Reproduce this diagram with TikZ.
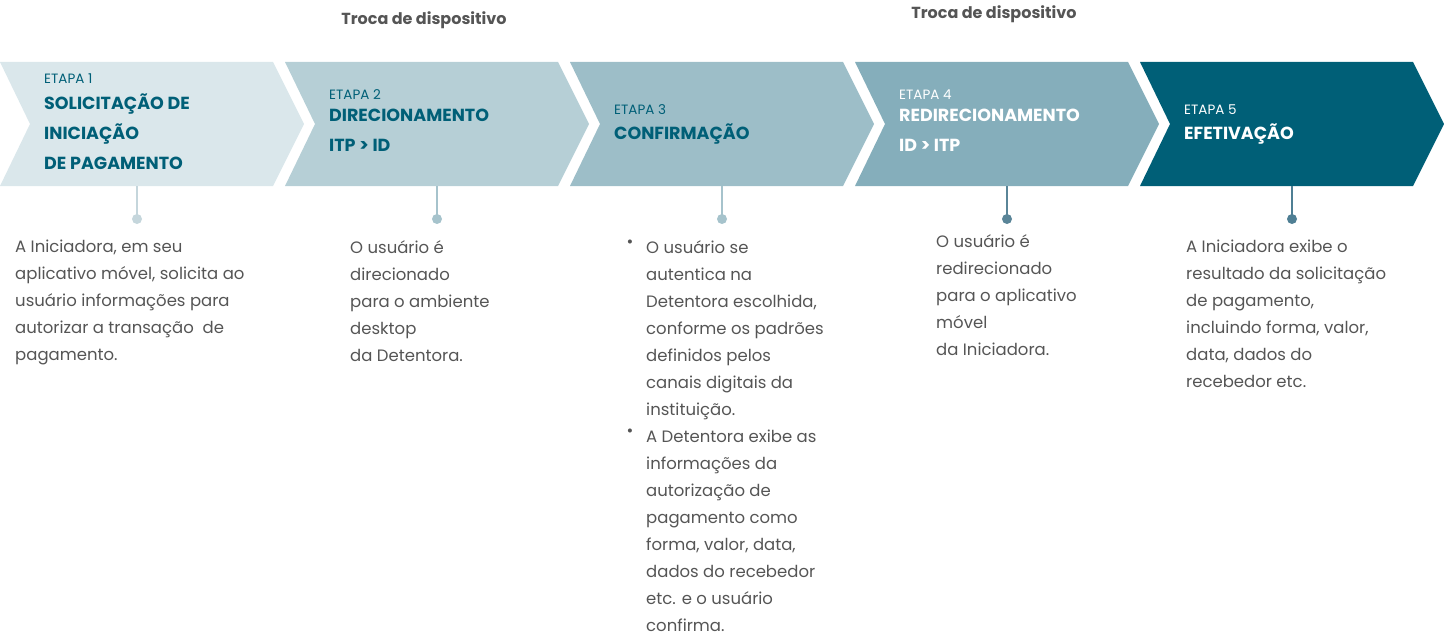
\documentclass[tikz,border=0pt]{standalone}
\usepackage{fontspec}
\setmainfont{Poppins}
\definecolor{cA}{HTML}{DAE7EB}
\definecolor{cB}{HTML}{B6CFD6}
\definecolor{cC}{HTML}{9DBEC8}
\definecolor{cD}{HTML}{85AEBB}
\definecolor{cE}{HTML}{005F77}
\definecolor{tx}{HTML}{555555}
\definecolor{lA}{HTML}{C5D6DC}
\definecolor{lB}{HTML}{A6C3CC}
\definecolor{lD}{HTML}{5A8598}
\definecolor{lE}{HTML}{4F7F94}
\begin{document}
\begin{tikzpicture}[x=1pt,y=-1pt,
  body/.style={anchor=north west,inner sep=0pt,align=left,text=tx,font=\fontsize{16.5}{27}\selectfont},
  etapa/.style={anchor=west,inner sep=0pt,font=\fontsize{13.5}{16}\selectfont},
  ttl/.style={anchor=north west,inner sep=0pt,align=left,font=\bfseries\fontsize{17.5}{30}\selectfont},
  hdr/.style={inner sep=0pt,text=tx,font=\bfseries\fontsize{16}{20}\selectfont}]
\useasboundingbox (0,0) rectangle (1444,642);
\foreach \i/\c in {0/cA,1/cB,2/cC,3/cD,4/cE}{
  \fill[\c] ({285*\i},62) -- ({285*\i+273},62) -- ({285*\i+304},124) -- ({285*\i+273},186) -- ({285*\i},186) -- ({285*\i+30},124) -- cycle;
}
\node[hdr] (h1) at (424,20) {Troca de dispositivo};
\node[hdr] (h2) at (994,14) {Troca de dispositivo};
% titles
\node[etapa,text=cE] (e1) at (44,79) {ETAPA 1};
\node[ttl,text=cE] (t1) at (44,94) {SOLICITAÇÃO DE\\INICIAÇÃO\\DE PAGAMENTO};
\node[etapa,text=cE] (e2) at (329,95) {ETAPA 2};
\node[ttl,text=cE] (t2) at (329,109) {DIRECIONAMENTO\\ITP > ID};
\node[etapa,text=cE] (e3) at (614,110) {ETAPA 3};
\node[ttl,text=cE] (t3) at (614,124) {CONFIRMAÇÃO};
\node[etapa,text=white] (e4) at (899,95) {ETAPA 4};
\node[ttl,text=white] (t4) at (899,109) {REDIRECIONAMENTO\\ID > ITP};
\node[etapa,text=white] (e5) at (1184,110) {ETAPA 5};
\node[ttl,text=white] (t5) at (1184,124) {EFETIVAÇÃO};
% connectors
\foreach \n/\x/\c in {1/137/lA,2/437/lB,3/722/lB,4/1007/lD,5/1292/lE}{
  \coordinate (s\n) at (\x,186);
  \coordinate (d\n) at (\x,219);
  \draw[\c,line width=1.5pt] (s\n) -- (d\n);
  \fill[\c] (d\n) circle (5);
}
% bodies
\node[body] (b1) at (15,240) {A Iniciadora, em seu\\aplicativo móvel, solicita ao\\usuário informações para\\autorizar a transação\ \ de\\pagamento.};
\node[body] (b2) at (350,240) {O usuário é\\direcionado\\para o ambiente\\desktop\\da Detentora.};
\node[body] (b3) at (646,240) {O usuário se\\autentica na\\Detentora escolhida,\\conforme os padrões\\definidos pelos\\canais digitais da\\instituição.\\A Detentora exibe as\\informações da\\autorização de\\pagamento como\\forma, valor, data,\\dados do recebedor\\etc. e o usuário\\confirma.};
\node[body,anchor=north] (u1) at (630,240) {•};
\node[body,anchor=north] (u2) at (630,429) {•};
\node[body] (b4) at (936,234) {O usuário é\\redirecionado\\para o aplicativo\\móvel\\da Iniciadora.};
\node[body] (b5) at (1186,240) {A Iniciadora exibe o\\resultado da solicitação\\de pagamento,\\incluindo forma, valor,\\data, dados do\\recebedor etc.};
\end{tikzpicture}
\end{document}
